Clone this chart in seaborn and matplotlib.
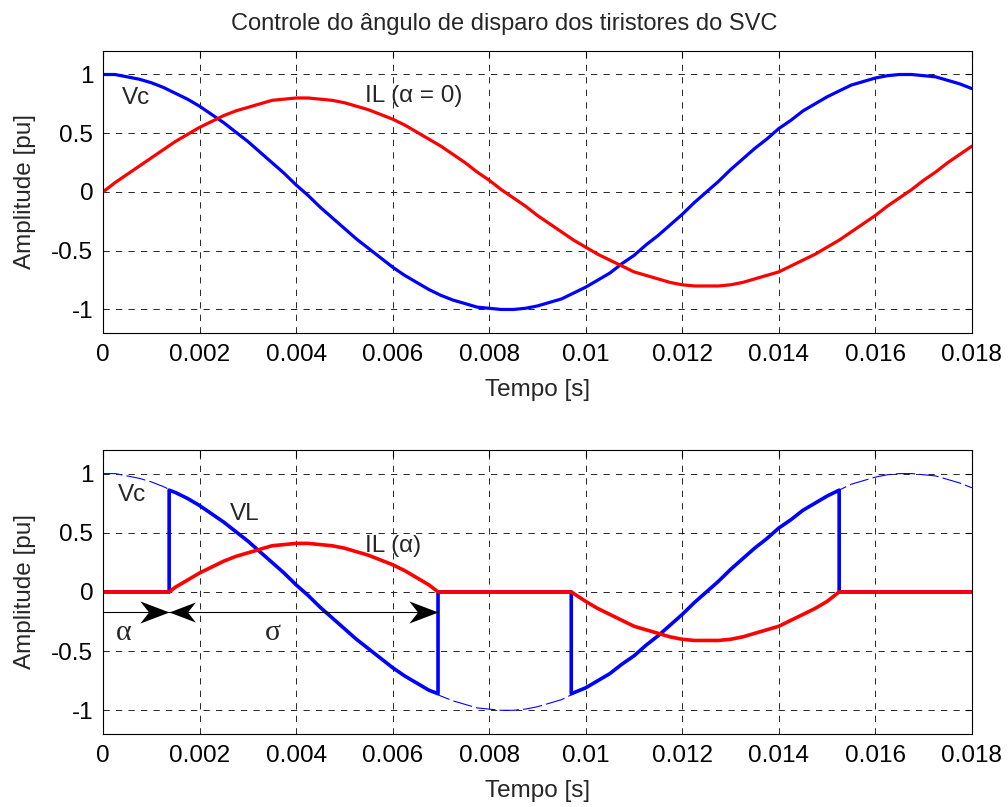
import pandas as pd
import numpy as np
import matplotlib
matplotlib.use("Agg")
import matplotlib.pyplot as plt
import seaborn as sns
from matplotlib.ticker import FuncFormatter
from matplotlib.path import Path

# time axis of the full-wave curves [s]
t_full = [0.0, 0.00025, 0.0005, 0.00075, 0.001, 0.00125, 0.0015, 0.00175, 0.002, 0.00225,
          0.0025, 0.00275, 0.003, 0.00325, 0.0035, 0.00375, 0.004, 0.00425, 0.0045, 0.00475,
          0.005, 0.00525, 0.0055, 0.00575, 0.006, 0.00625, 0.0065, 0.00675, 0.007, 0.00725,
          0.0075, 0.00775, 0.008, 0.00825, 0.0085, 0.00875, 0.009, 0.00925, 0.0095, 0.00975,
          0.01, 0.01025, 0.0105, 0.01075, 0.011, 0.01125, 0.0115, 0.01175, 0.012, 0.01225,
          0.0125, 0.01275, 0.013, 0.01325, 0.0135, 0.01375, 0.014, 0.01425, 0.0145, 0.01475,
          0.015, 0.01525, 0.0155, 0.01575, 0.016, 0.01625, 0.0165, 0.01675, 0.017, 0.01725,
          0.0175, 0.01775, 0.018]
# capacitor voltage Vc [pu]
vc = [1.00, 1.00, 0.98, 0.96, 0.93, 0.89, 0.84, 0.79, 0.73, 0.66,
      0.59, 0.51, 0.43, 0.34, 0.25, 0.16, 0.06, -0.03, -0.13, -0.22,
      -0.31, -0.40, -0.48, -0.56, -0.64, -0.71, -0.77, -0.83, -0.88, -0.92,
      -0.95, -0.98, -0.99, -1.00, -1.00, -0.99, -0.97, -0.94, -0.91, -0.86,
      -0.81, -0.75, -0.69, -0.61, -0.54, -0.45, -0.37, -0.28, -0.19, -0.09,
      0.00, 0.09, 0.19, 0.28, 0.37, 0.45, 0.54, 0.61, 0.69, 0.75,
      0.81, 0.86, 0.91, 0.94, 0.97, 0.99, 1.00, 1.00, 0.99, 0.98,
      0.95, 0.92, 0.88]
# reactor current with alpha = 0 [pu]
il_0 = [0.00, 0.08, 0.15, 0.22, 0.29, 0.36, 0.43, 0.49, 0.55, 0.60,
        0.65, 0.69, 0.72, 0.75, 0.78, 0.79, 0.80, 0.80, 0.79, 0.78,
        0.76, 0.73, 0.70, 0.66, 0.62, 0.57, 0.51, 0.45, 0.39, 0.32,
        0.25, 0.17, 0.10, 0.02, -0.05, -0.12, -0.20, -0.27, -0.34, -0.41,
        -0.47, -0.53, -0.58, -0.63, -0.68, -0.71, -0.74, -0.77, -0.79, -0.80,
        -0.80, -0.80, -0.79, -0.77, -0.74, -0.71, -0.68, -0.63, -0.58, -0.53,
        -0.47, -0.41, -0.34, -0.27, -0.20, -0.12, -0.05, 0.02, 0.10, 0.17,
        0.25, 0.32, 0.39]

t_alpha = 0.00137   # firing instant (positive half)
t_end = 0.00694     # end of conduction (positive half)
t_fire2 = 0.0097    # firing instant (negative half)
t_end2 = 0.01525    # end of conduction (negative half)
t_max = 0.018

# reactor voltage VL with firing angle alpha
t_vl = ([0.0, t_alpha, t_alpha] + t_full[6:28] + [t_end, t_end, t_fire2, t_fire2]
        + t_full[40:61] + [t_end2, t_end2, t_max])
vl = ([0, 0, 0.86] + vc[6:28] + [-0.86, 0, 0, -0.86]
      + vc[40:61] + [0.86, 0, 0])

# reactor current IL with firing angle alpha
t_ila = [0.0, t_alpha] + t_full[6:28] + [t_end, t_fire2] + t_full[40:61] + [t_end2, t_max]
il_a = ([0, 0]
        + [0.04, 0.10, 0.16, 0.21, 0.26, 0.30, 0.33, 0.36, 0.39, 0.40, 0.41,
           0.41, 0.40, 0.39, 0.37, 0.34, 0.31, 0.27, 0.23, 0.18, 0.12, 0.06]
        + [0, 0]
        + [-0.08, -0.14, -0.19, -0.24, -0.29, -0.32, -0.35, -0.38, -0.40, -0.41, -0.41,
           -0.41, -0.40, -0.38, -0.35, -0.32, -0.29, -0.24, -0.19, -0.14, -0.08]
        + [0, 0])

x_ticks = [0, 0.002, 0.004, 0.006, 0.008, 0.01, 0.012, 0.014, 0.016, 0.018]
y_ticks = [-1, -0.5, 0, 0.5, 1]
y_arrow = -0.167

sns.set_theme(style="white")
plt.rcParams['font.family'] = ['Liberation Sans', 'DejaVu Sans']
plt.rcParams['axes.unicode_minus'] = False
plt.rcParams['lines.scale_dashes'] = False

top = pd.DataFrame({'t': t_full, 'Vc': vc, 'IL0': il_0})
vl_df = pd.DataFrame({'t': t_vl, 'VL': vl})
il_df = pd.DataFrame({'t': t_ila, 'IL': il_a})

fig = plt.figure(figsize=(10.08, 8.07), dpi=100)
ax1 = fig.add_axes([0.1022, 0.5874, 0.862, 0.3494])
ax2 = fig.add_axes([0.1022, 0.0905, 0.862, 0.352])

fs = 17.5

def style_axes(ax):
    ax.set_xlim(0, 0.018)
    ax.set_ylim(-1.2, 1.2)
    ax.set_xticks(x_ticks)
    ax.set_yticks(y_ticks)
    ax.xaxis.set_major_formatter(FuncFormatter(lambda v, p: '%g' % round(v, 4)))
    ax.yaxis.set_major_formatter(FuncFormatter(lambda v, p: '%g' % v))
    ax.grid(True, color='0.15', linestyle=(0, (4.5, 4.5)), linewidth=0.7)
    ax.tick_params(direction='in', length=5, width=0.8, top=True, right=True,
                   labelsize=fs, colors='black')
    ax.tick_params(axis='x', pad=8)
    ax.tick_params(axis='y', pad=7)
    for s in ax.spines.values():
        s.set_color('black')
        s.set_linewidth(0.8)
    ax.set_xlabel('Tempo [s]', fontsize=fs, labelpad=9)
    ax.set_ylabel('Amplitude [pu]', fontsize=fs, labelpad=11)

# upper plot
sns.lineplot(data=top, x='t', y='Vc', ax=ax1, color='#0000ff', linewidth=2.3,
             estimator=None, sort=False)
sns.lineplot(data=top, x='t', y='IL0', ax=ax1, color='#ff0000', linewidth=2.3,
             estimator=None, sort=False)
style_axes(ax1)
ax1.set_title('Controle do ângulo de disparo dos tiristores do SVC', fontsize=17,
              x=0.4615, pad=15)
ax1.text(0.0004, 0.80, 'Vc', fontsize=fs, va='center')
ax1.text(0.00543, 0.82, 'IL (α = 0)', fontsize=fs, va='center')

# lower plot
sns.lineplot(data=top, x='t', y='Vc', ax=ax2, color='#0000ff', linewidth=0.8,
             linestyle=(0, (14, 3)), estimator=None, sort=False)
sns.lineplot(data=vl_df, x='t', y='VL', ax=ax2, color='#0000ff', linewidth=2.6,
             estimator=None, sort=False)
sns.lineplot(data=il_df, x='t', y='IL', ax=ax2, color='#ff0000', linewidth=2.6,
             estimator=None, sort=False)
style_axes(ax2)
ax2.text(0.00031, 0.82, 'Vc', fontsize=fs, va='center')
ax2.text(0.00263, 0.66, 'VL', fontsize=fs, va='center')
ax2.text(0.00543, 0.39, 'IL (α)', fontsize=fs, va='center')
ax2.text(0.00027, -0.35, 'α', fontsize=fs + 4, va='center', family='Liberation Serif')
ax2.text(0.00336, -0.35, 'σ', fontsize=fs + 4, va='center', family='Liberation Serif')

# alpha / sigma dimension arrows with swept-back heads
codes = [Path.MOVETO, Path.LINETO, Path.LINETO, Path.LINETO, Path.CLOSEPOLY]
head_r = Path([(0, 0), (-1, 0.38), (-0.7, 0), (-1, -0.38), (0, 0)], codes)
head_l = Path([(0, 0), (1, 0.38), (0.7, 0), (1, -0.38), (0, 0)], codes)
ax2.plot([0, t_end], [y_arrow, y_arrow], color='black', linewidth=0.8)
ax2.plot([t_alpha, t_end], [y_arrow, y_arrow], linestyle='none', marker=head_r,
         markersize=42, color='black', markeredgewidth=0)
ax2.plot([t_alpha], [y_arrow], linestyle='none', marker=head_l,
         markersize=38, color='black', markeredgewidth=0)

fig.savefig('out.png', dpi=100)
